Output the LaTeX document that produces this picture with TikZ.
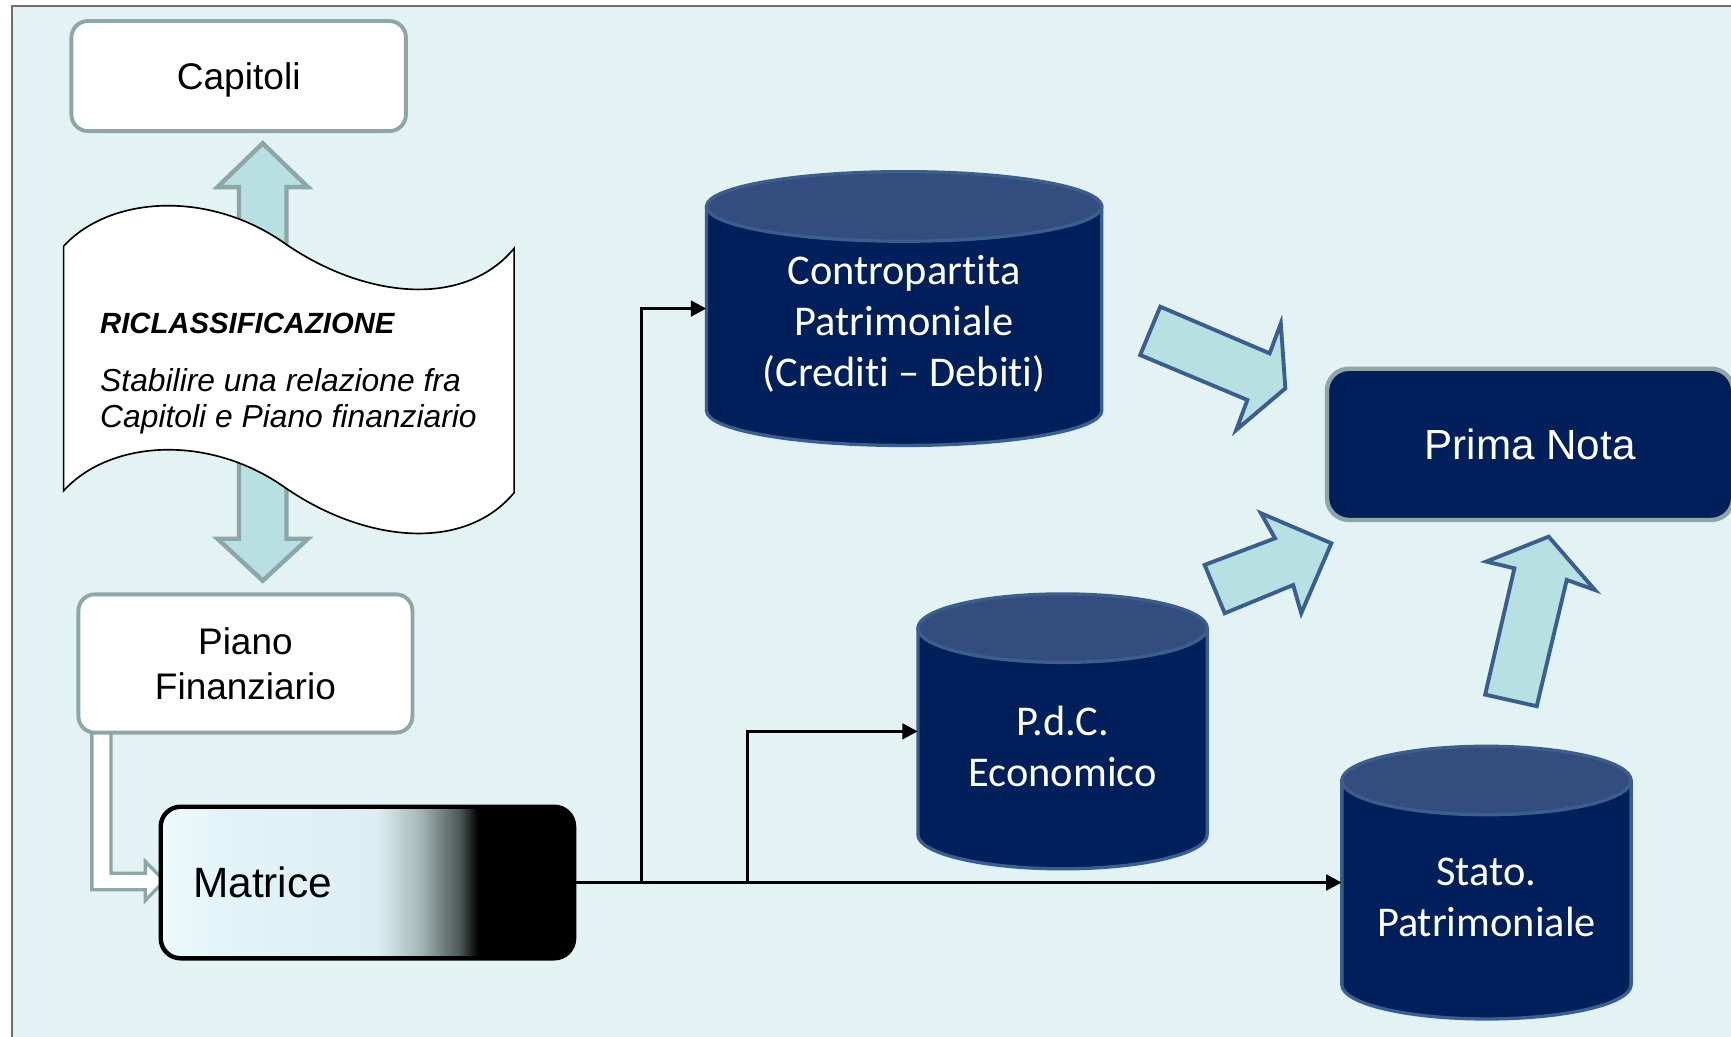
\documentclass[tikz,border=0pt]{standalone}
\usepackage{fontspec}
\setmainfont{Liberation Sans}
\newfontfamily\calib[Ligatures=NoCommon]{Carlito}
\usetikzlibrary{arrows.meta}

\definecolor{bgc}{HTML}{E3F2F3}
\definecolor{greyb}{HTML}{8DA6A8}
\definecolor{arrowfill}{HTML}{B8DFE2}
\definecolor{navy}{HTML}{001F5B}
\definecolor{navytop}{HTML}{334D7E}
\definecolor{navyline}{HTML}{3A5F8E}
\definecolor{framec}{HTML}{6F6F6F}
\definecolor{mA}{HTML}{EFFAFB}
\definecolor{mB}{HTML}{E2F4F8}
\definecolor{mC}{HTML}{DCEEF1}
\definecolor{mD}{HTML}{A6B9B9}
\definecolor{mE}{HTML}{4E5858}

\pgfdeclarehorizontalshading{matshade}{100bp}{color(0bp)=(mA); color(25bp)=(mA); color(32bp)=(mB); color(51.2bp)=(mC); color(56.2bp)=(mD); color(61.1bp)=(mE); color(63.4bp)=(black); color(100bp)=(black)}

\newcommand\mycyl[5]{%
  \pgfmathsetmacro\cxa{(#1+#2)/2}\pgfmathsetmacro\rxa{(#2-#1)/2}%
  \draw[navyline, line width=3pt, fill=navy] (#1,#3) -- (#1,#4) arc[start angle=180,end angle=360,x radius=\rxa pt,y radius=#5 pt] -- (#2,#3) -- cycle;
  \draw[navyline, line width=3pt, fill=navytop] (\cxa,#3) ellipse[x radius=\rxa pt, y radius=#5 pt];
}

\begin{document}
\begin{tikzpicture}[x=1pt,y=-1pt,
  wbox/.style={draw=greyb, line width=3.5pt, fill=white, rounded corners=15pt, inner sep=0pt, align=center},
  dblarrow/.style={fill=arrowfill, draw=greyb, line width=4pt, line join=miter},
  blkarrow/.style={fill=arrowfill, draw=navyline, line width=3.5pt, line join=miter},
  conn/.style={draw=black, line width=3pt, -{Triangle[length=14pt,width=14pt]}},
  cylbox/.style={inner sep=0pt, minimum width=#1},
  cyltext/.style={text=white, font=\calib\fontsize{38.4}{46}\selectfont, align=center, inner sep=0pt},
  doctext/.style={anchor=base west, inner sep=0pt}
]
\clip (0,0) rectangle (1568,939);
\useasboundingbox (0,0) rectangle (1568,939);
\fill[white] (0,0) rectangle (1568,939);
\fill[bgc] (10.7,5.2) rectangle (1580,950);
\draw[framec, line width=1.5pt] (10.7,950) -- (10.7,5.2) -- (1580,5.2);

% double arrow Capitoli <-> Piano
\draw[dblarrow] (238,129.8) -- (279,169.5) -- (259.5,169.5) -- (259.5,488) -- (279,488) -- (238,526) -- (197,488) -- (216.5,488) -- (216.5,169.5) -- (197,169.5) -- cycle;

% document shape
\draw[fill=white, line width=1.5pt] (57.6,223) .. controls (100,177) and (190,172) .. (258.7,221)
  .. controls (330,270) and (420,280) .. (465.7,225) -- (465.7,446.3)
  .. controls (420,501) and (330,491) .. (258.7,442)
  .. controls (190,393) and (100,398) .. (57.6,444.6) -- cycle;
\node[doctext, font=\bfseries\itshape\fontsize{26.5}{32}\selectfont] (rt1) at (90.6,301.9) {RICLASSIFICAZIONE};
\node[doctext, font=\itshape\fontsize{28.8}{34}\selectfont] (rt2) at (90.6,354.3) {Stabilire una relazione fra};
\node[doctext, font=\itshape\fontsize{28.8}{34}\selectfont] (rt3) at (90.6,387.3) {Capitoli e Piano finanziario};

% Capitoli
\node[wbox, minimum width=303pt, minimum height=99.7pt] (cap) at (216.2,68.9) {};
\node[font=\fontsize{33.6}{40}\selectfont, inner sep=0pt] (capt) at (216.2,72) {Capitoli};

% L arrow Piano -> Matrice
\draw[fill=white, draw=greyb, line width=3pt, line join=miter] (83.2,662) -- (100.5,662) -- (100.5,791) -- (131.7,791) -- (131.7,780.5) -- (149,798) -- (131.7,815.5) -- (131.7,806) -- (83.2,806) -- cycle;

% Piano Finanziario
\node[wbox, minimum width=302.6pt, minimum height=125.3pt, font=\fontsize{33.5}{41}\selectfont] (pf) at (222.3,601) {Piano\\Finanziario};

% Matrice
\node[draw=black, line width=4pt, shade, shading=matshade, rounded corners=18pt,
  minimum height=137.3pt, text width=315.6pt, inner xsep=29.4pt, inner ysep=0pt, align=left,
  font=\fontsize{38.4}{46}\selectfont] (mat) at (332.8,799.4) {Matrice};

% cylinders
\mycyl{640}{998}{187}{372}{31.5}
\mycyl{831.5}{1093.5}{569}{756}{31}
\mycyl{1215.5}{1477.5}{707}{892}{31}

\node[cylbox=358pt, minimum height=248pt] (cp) at (819,279.5) {};
\node[cylbox=262pt, minimum height=249pt] (pdc) at (962.5,662.5) {};
\node[cylbox=262pt, minimum height=247pt] (stato) at (1346.5,799.5) {};

\node[cyltext] (cpt) at (819,293.5) {Contropart\kern0pt it\kern0pt a\\Patrimoniale\\(Crediti – Debiti)};
\node[cyltext] (pdct) at (962.5,676) {P.d.C.\\Economico};
\node[cyltext] (statot) at (1346.5,813) {Stato.\\Patrimoniale};

% connectors
\path (mat.east) ++(59,0) coordinate (j1);
\path (mat.east) ++(155,0) coordinate (j2);
\draw[conn] (mat.east) -- (mat.east -| stato.west);
\draw[conn] (j1) |- (cp.west);
\draw[conn] (j2) |- (pdc.west);

% Prima Nota
\node[draw=greyb, line width=4pt, fill=navy, rounded corners=20pt, minimum width=368pt, minimum height=137pt,
  text=white, font=\fontsize{38.2}{46}\selectfont] (pn) at (1386,402.5) {Prima Nota};

% block arrows to Prima Nota
\draw[blkarrow] (1051,277.8) -- (1150.1,320.1) -- (1160.2,292.9) -- (1164.3,351.8) -- (1119.8,389.5) -- (1129.9,362.3) -- (1032.8,321.6) -- cycle;
\draw[blkarrow] (1091.2,511.7) -- (1155,487.6) -- (1142.2,464.9) -- (1206,492.1) -- (1178.7,555.5) -- (1171.4,529.9) -- (1109.4,555.5) -- cycle;
\draw[blkarrow] (1345.3,629.2) -- (1371.8,514.8) -- (1346.3,508.7) -- (1402.8,486.1) -- (1444.7,534.4) -- (1419.2,525.3) -- (1392,639.7) -- cycle;
\end{tikzpicture}
\end{document}
